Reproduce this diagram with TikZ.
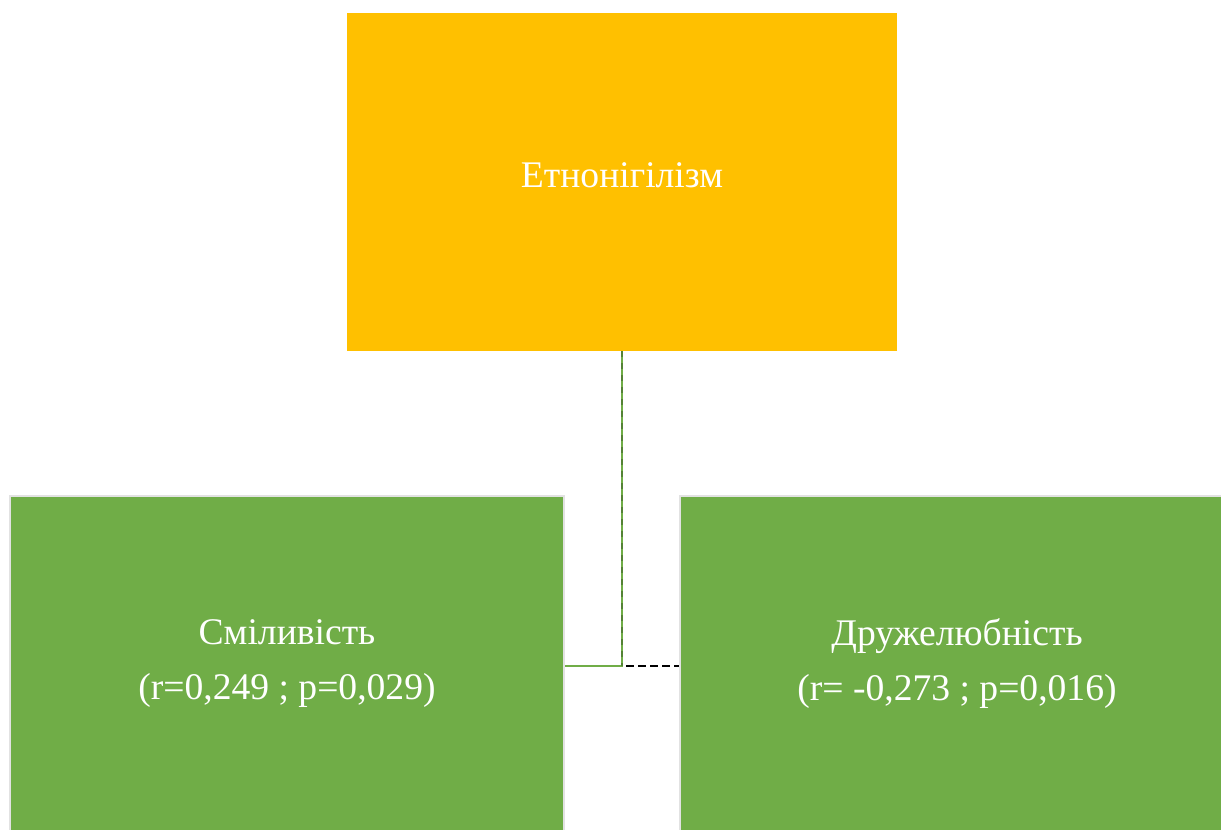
\documentclass[tikz,border=0pt]{standalone}
\usepackage{fontspec}
\setmainfont{Liberation Serif}
\usepackage{tikz}
\usetikzlibrary{positioning}
\definecolor{gold}{HTML}{FFC000}
\definecolor{leaf}{HTML}{70AD47}
\definecolor{leafdark}{HTML}{548235}
\definecolor{rim}{HTML}{E2E2E2}

\begin{document}
\begin{tikzpicture}[x=0.5pt,y=-0.5pt,
    box/.style = {rectangle, inner sep=0pt, text=white, align=center,
      font=\fontsize{18.8}{27.5}\selectfont},
    topbox/.style = {box, fill=gold, minimum width=275pt, minimum height=169pt},
    traitbox/.style = {box, fill=leaf, draw=rim, line width=1pt,
      minimum width=277pt, minimum height=168pt},
    link/.style = {draw=leaf, line width=1.4pt}]
\useasboundingbox (0,0) rectangle (1221,830);
\clip (0,0) rectangle (1221,830);

\node[topbox] (etno) at (622,182) {};
\node[box] (etnotext) at (622,175) {Етнонігілізм};
\node[traitbox] (smil) at (287,664) {Сміливість\\(r=0,249 ; p=0,029)};
\node[traitbox] (druzh) at (957,664) {Дружелюбність\\(r= -0,273 ; p=0,016)};

\coordinate (knee) at ([yshift=-1pt]etno.south |- smil.east);

\path[link] (etno.south) -- (knee) -- (smil.east |- knee);
\draw[leafdark, line width=0.7pt, dashed] (etno.south) -- (knee);
\draw[black, line width=1.2pt, dash pattern=on 4pt off 2pt] ([xshift=2pt]knee) -- (druzh.west |- knee);
\end{tikzpicture}
\end{document}
